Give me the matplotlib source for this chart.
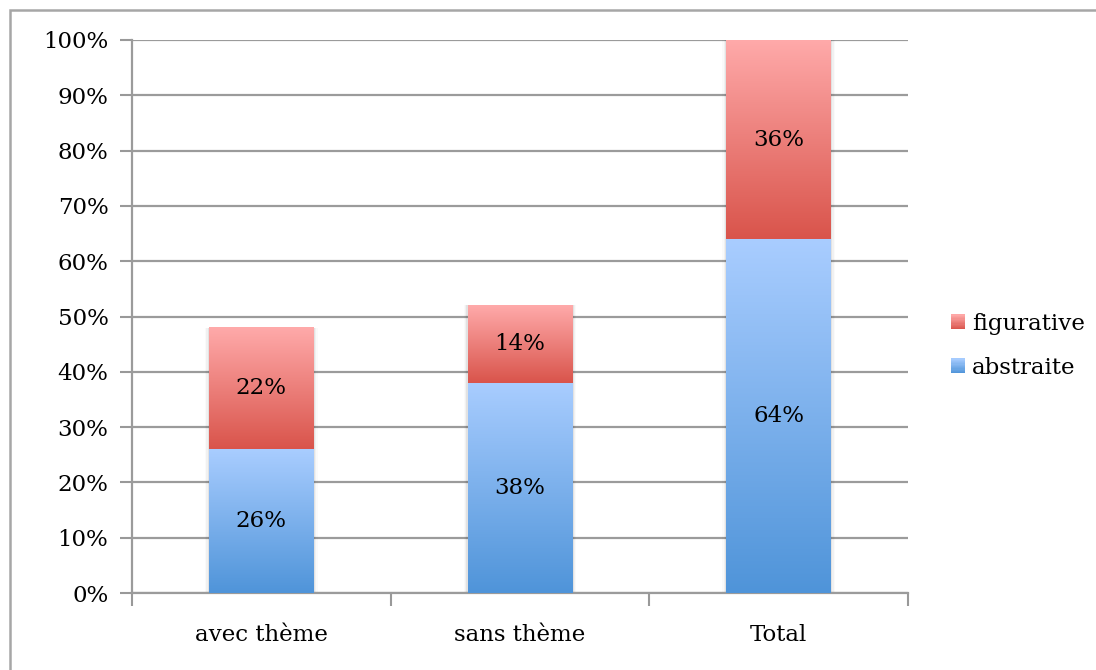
import numpy as np
import matplotlib
matplotlib.use("Agg")
import matplotlib.pyplot as plt
from matplotlib.colors import LinearSegmentedColormap
from matplotlib.patches import Rectangle, Patch
from matplotlib.legend_handler import HandlerPatch

categories = ["avec thème", "sans thème", "Total"]
abstraite = [26, 38, 64]
figurative = [22, 14, 36]
yticks = [0, 10, 20, 30, 40, 50, 60, 70, 80, 90, 100]

FS = 16.5
plt.rcParams["font.family"] = ["DejaVu Serif"]

W, H = 1096, 670
fig = plt.figure(figsize=(W / 100, H / 100), dpi=100)

# outer chart frame
fig.patches.append(Rectangle((10 / W, -0.1), 1.2, 1 - 10 / H + 0.1,
                             transform=fig.transFigure, fill=False,
                             edgecolor="#a6a6a6", linewidth=1.8, zorder=0))

ax = fig.add_axes([132 / W, (H - 593) / H, (908 - 132) / W, (593 - 40) / H])

blue_cmap = LinearSegmentedColormap.from_list("blue", ["#4f94d9", "#a9cdff"])
red_cmap = LinearSegmentedColormap.from_list("red", ["#d9544b", "#ffaaaa"])

x = np.arange(len(categories))
width = 0.405
b1 = ax.bar(x, abstraite, width, color="none", edgecolor="none", zorder=3, label="abstraite")
b2 = ax.bar(x, figurative, width, bottom=abstraite, color="none", edgecolor="none",
            zorder=3, label="figurative")

grad = np.linspace(0, 1, 256).reshape(-1, 1)


def fill_gradient(bars, cmap):
    for p in bars.patches:
        x0, y0 = p.get_x(), p.get_y()
        w, h = p.get_width(), p.get_height()
        ax.imshow(grad, cmap=cmap, origin="lower", aspect="auto",
                  extent=(x0, x0 + w, y0, y0 + h), zorder=3, interpolation="bilinear")


# faint side shadow behind each stacked column
for i in range(len(categories)):
    total = abstraite[i] + figurative[i]
    for k, a in enumerate([0.06, 0.035, 0.02]):
        d = 0.005 * (k + 1)
        ax.add_patch(Rectangle((x[i] - width / 2 - d, 0), width + 2 * d, total,
                               facecolor="#000000", alpha=a, edgecolor="none", zorder=2.5))

fill_gradient(b1, blue_cmap)
fill_gradient(b2, red_cmap)

for bars, vals, bottoms in [(b1, abstraite, [0] * 3), (b2, figurative, abstraite)]:
    for p, v, b in zip(bars.patches, vals, bottoms):
        ax.text(p.get_x() + p.get_width() / 2, b + v / 2, f"{v}%", ha="center",
                va="center", fontsize=FS, color="#000000", zorder=5)

ax.set_xlim(-0.5, len(categories) - 0.5)
ax.set_ylim(0, 100)
ax.set_yticks(yticks)
ax.set_yticklabels([f"{t}%" for t in yticks], fontsize=FS)
ax.set_xticks(x)
ax.set_xticklabels(categories, fontsize=FS)
ax.tick_params(axis="x", length=0, pad=22)
ax.tick_params(axis="y", length=9, width=1.5, color="#999999", pad=8)
ax.set_xticks(np.arange(len(categories) + 1) - 0.5, minor=True)
ax.tick_params(axis="x", which="minor", length=9, width=1.5, color="#999999")

ax.yaxis.grid(True, color="#9b9b9b", linewidth=1.6, zorder=1)
ax.set_axisbelow(True)
for s in ["top", "right"]:
    ax.spines[s].set_visible(False)
for s in ["left", "bottom"]:
    ax.spines[s].set_color("#9b9b9b")
    ax.spines[s].set_linewidth(1.6)


class GradHandler(HandlerPatch):
    def __init__(self, cmap):
        super().__init__()
        self.cmap = cmap

    def create_artists(self, legend, orig_handle, xdescent, ydescent, width, height,
                       fontsize, trans):
        arts = []
        n = 12
        for k in range(n):
            r = Rectangle((-xdescent, -ydescent + height * k / n), width, height / n + 0.3,
                          facecolor=self.cmap((k + 0.5) / n), edgecolor="none",
                          transform=trans)
            arts.append(r)
        return arts


h_fig = Patch(label="figurative")
h_abs = Patch(label="abstraite")
leg = fig.legend([h_fig, h_abs], ["figurative", "abstraite"],
                 handler_map={h_fig: GradHandler(red_cmap), h_abs: GradHandler(blue_cmap)},
                 loc="center left", bbox_to_anchor=(951 / W, 1 - 346 / H), frameon=False,
                 fontsize=FS, handlelength=0.62, handleheight=0.62, handletextpad=0.3,
                 labelspacing=0.95, borderpad=0, borderaxespad=0)

fig.savefig("out.png", dpi=100)
